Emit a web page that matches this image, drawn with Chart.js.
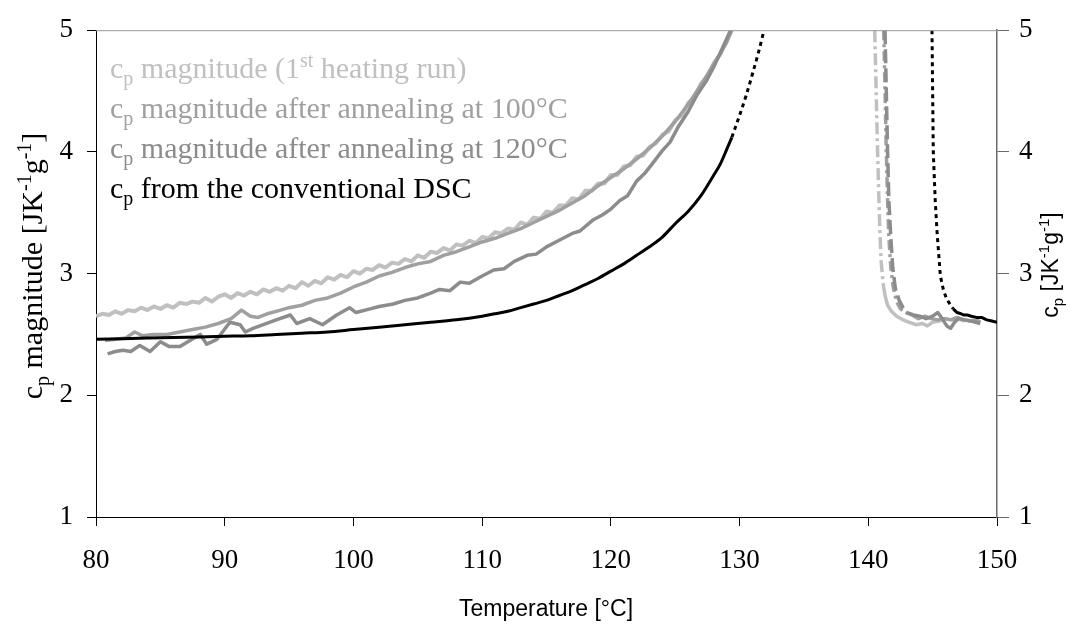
<!DOCTYPE html>
<html>
<head>
<meta charset="utf-8">
<script src="https://cdn.jsdelivr.net/npm/chart.js@4.4.1/dist/chart.umd.min.js"></script>
<style>
html,body{margin:0;padding:0;background:#fff;}
#wrap{position:relative;width:1071px;height:628px;}
</style>
</head>
<body>
<div id="wrap"><canvas id="c" width="1071" height="628"></canvas></div>
<script>
// ---- data ----
const xTicks = [80, 90, 100, 110, 120, 130, 140, 150];
const yTicks = [1, 2, 3, 4, 5];

// 1st heating run (light grey)
const heat1T = [80,80.5,81,81.5,82,82.5,83,83.5,84,84.5,
  85,85.5,86,86.5,87,87.5,88,88.5,89,89.5,
  90,90.5,91,91.5,92,92.5,93,93.5,94,94.5,
  95,95.5,96,96.5,97,97.5,98,98.5,99,99.5,
  100,100.5,101,101.5,102,102.5,103,103.5,104,104.5,
  105,105.5,106,106.5,107,107.5,108,108.5,109,109.5,
  110,110.5,111,111.5,112,112.5,113,113.5,114,114.5,
  115,115.5,116,116.5,117,117.5,118,118.5,119,119.5,
  120,120.5,121,121.5,122,122.5,123,123.5,124,124.5,
  125,125.5,126,126.5,127,127.5,128,128.5,129,129.35];
const heat1Cp = [2.65,2.67,2.66,2.69,2.67,2.70,2.69,2.72,2.70,2.73,
  2.71,2.74,2.72,2.76,2.75,2.77,2.76,2.80,2.77,2.81,
  2.83,2.80,2.84,2.82,2.85,2.83,2.87,2.85,2.88,2.86,
  2.90,2.88,2.93,2.90,2.94,2.92,2.97,2.95,2.99,2.97,
  3.02,3.00,3.04,3.03,3.07,3.05,3.09,3.08,3.12,3.10,
  3.15,3.13,3.18,3.17,3.21,3.19,3.24,3.23,3.27,3.25,
  3.30,3.29,3.34,3.33,3.37,3.36,3.42,3.40,3.46,3.45,
  3.51,3.50,3.56,3.56,3.62,3.61,3.68,3.68,3.74,3.74,
  3.81,3.81,3.88,3.89,3.96,3.97,4.04,4.07,4.14,4.17,
  4.26,4.30,4.40,4.45,4.56,4.62,4.73,4.80,4.92,5.00];
const heat1FallT = [140.5,140.6,140.7,140.8,140.9,141.0,141.15];
const heat1FallCp = [5.0,4.55,4.1,3.7,3.35,3.1,2.92];
const heat1TailT = [141.15,141.3,141.5,141.8,142.2,142.7,143.2,143.7,144.2,144.6,145,145.5,146,146.5,147,147.5];
const heat1TailCp = [2.92,2.82,2.74,2.69,2.65,2.62,2.60,2.58,2.59,2.57,2.60,2.61,2.63,2.62,2.63,2.61];

// after annealing at 100 °C
const ann100T = [80.7,81.5,82.3,83,83.6,84.5,85.5,86.5,87.5,88.5,
  89.5,90.5,91.3,92,92.6,93.3,94,95,96,97,
  98,99,100,101,102,103,104,105,106,107,
  108,109,110,111,112,113,114,115,116,117,
  118,119,120,121,122,123,124,125,126,127,
  128,129,129.4];
const ann100Cp = [2.45,2.46,2.47,2.52,2.49,2.50,2.50,2.52,2.54,2.56,
  2.59,2.63,2.70,2.65,2.64,2.67,2.69,2.72,2.74,2.78,
  2.80,2.84,2.89,2.93,2.98,3.01,3.05,3.08,3.10,3.15,
  3.18,3.22,3.26,3.29,3.33,3.37,3.42,3.47,3.52,3.58,
  3.64,3.72,3.79,3.86,3.94,4.03,4.13,4.25,4.39,4.55,
  4.72,4.90,5.00];
const ann100FallT = [141.2,141.3,141.4,141.5,141.6,141.75,141.95,142.2,142.5,142.9];
const ann100FallCp = [5.0,4.5,4.0,3.6,3.3,3.05,2.88,2.77,2.71,2.68];
const ann100TailT = [142.9,143.4,143.9,144.4,144.9,145.4,145.9,146.4,146.9,147.4,147.9,148.4,148.7];
const ann100TailCp = [2.68,2.66,2.63,2.65,2.63,2.62,2.63,2.62,2.64,2.62,2.61,2.62,2.60];

// after annealing at 120 °C
const ann120T = [80.9,81.5,82.1,82.7,83.4,84.2,85,85.7,86.5,87.3,
  88.1,88.6,89.4,90.4,91.2,91.6,92.2,93,94,95.1,
  95.6,96.6,97.6,98.7,99.7,100.2,101.3,102,103.1,104,
  105,106,106.7,107.5,108.3,109,110,110.9,111.7,112.5,
  113.5,114.2,115,116.1,117,117.6,118.6,119.3,120,120.7,
  121.3,122,122.6,123.2,124,124.6,125.2,126,126.7,127.4,
  128,128.7,129.3];
const ann120Cp = [2.34,2.36,2.37,2.36,2.41,2.36,2.44,2.40,2.40,2.45,
  2.50,2.42,2.46,2.60,2.58,2.52,2.55,2.58,2.62,2.66,
  2.59,2.63,2.58,2.66,2.72,2.68,2.71,2.73,2.75,2.78,
  2.80,2.84,2.87,2.86,2.93,2.92,2.98,3.03,3.04,3.10,
  3.15,3.16,3.22,3.28,3.33,3.35,3.44,3.48,3.53,3.60,
  3.64,3.76,3.82,3.90,4.01,4.08,4.20,4.33,4.47,4.58,
  4.70,4.86,5.00];
const ann120FallT = [141.3,141.4,141.5,141.6,141.75,141.9,142.1,142.4,142.7,143.0];
const ann120FallCp = [5.0,4.5,4.0,3.6,3.3,3.05,2.88,2.78,2.72,2.68];
const ann120TailT = [143.0,143.5,144,144.5,145,145.4,145.8,146.1,146.4,146.7,147,147.5,148,148.7];
const ann120TailCp = [2.68,2.66,2.65,2.63,2.65,2.68,2.62,2.57,2.55,2.60,2.63,2.62,2.61,2.59];

// conventional DSC (black)
const dscT = [80,82,84,86,88,90,92,94,96,98,100,102,104,106,108,110,111,112,113,114,115,116,117,118,119,120,121,122,123,124,125,126,127,128,128.5,129,129.4];
const dscCp = [2.46,2.465,2.47,2.475,2.48,2.485,2.49,2.50,2.51,2.52,2.54,2.56,2.58,2.60,2.62,2.65,2.67,2.69,2.72,2.75,2.78,2.82,2.86,2.91,2.96,3.02,3.08,3.15,3.22,3.30,3.41,3.51,3.64,3.81,3.90,4.02,4.12];
const dscRiseDotT = [129.4,130,130.5,131,131.5,131.9];
const dscRiseDotCp = [4.12,4.30,4.46,4.64,4.83,5.0];
const dscFallDotT = [144.95,145.0,145.05,145.2,145.35,145.6,145.85,146.1,146.4,146.6];
const dscFallDotCp = [5.0,4.5,4.0,3.6,3.33,2.98,2.86,2.79,2.74,2.71];
const dscTailT = [146.6,146.9,147.2,147.4,147.7,148,148.4,148.8,149.2,149.6,150];
const dscTailCp = [2.71,2.68,2.67,2.66,2.66,2.65,2.64,2.64,2.62,2.61,2.60];

const legendLines = [
  {color:'#c0c0c0', segs:[{t:'c'},{t:'p',s:'sub'},{t:' magnitude (1'},{t:'st',s:'sup'},{t:' heating run)'}]},
  {color:'#a0a0a0', segs:[{t:'c'},{t:'p',s:'sub'},{t:' magnitude after annealing at 100°C'}]},
  {color:'#8c8c8c', segs:[{t:'c'},{t:'p',s:'sub'},{t:' magnitude after annealing at 120°C'}]},
  {color:'#000000', segs:[{t:'c'},{t:'p',s:'sub'},{t:' from the conventional DSC'}]}
];
const yTitleLeft = [{t:'c'},{t:'p',s:'sub'},{t:' magnitude [JK'},{t:'-1',s:'sup'},{t:'g'},{t:'-1',s:'sup'},{t:']'}];
const yTitleRight = [{t:'c'},{t:'p',s:'sub'},{t:' [JK'},{t:'-1',s:'sup'},{t:'g'},{t:'-1',s:'sup'},{t:']'}];
const xTitle = 'Temperature [°C]';

// ---- helpers ----
function pts(xs, ys){ return xs.map((x,i)=>({x:x, y:ys[i]})); }
function ds(xs, ys, color, width, dash, mode){
  return {data:pts(xs,ys), borderColor:color, borderWidth:width, borderDash:dash||[],
    pointRadius:0, fill:false, tension:0, cubicInterpolationMode: mode==='mono'?'monotone':'default',
    borderCapStyle:'butt', borderJoinStyle:'round'};
}
function segFont(seg, size, fam){ return (seg.s ? Math.round(size*0.65) : size) + 'px ' + fam; }
function richWidth(ctx, segs, size, fam){
  let w=0; for(const s of segs){ ctx.font=segFont(s,size,fam); w+=ctx.measureText(s.t).width; } return w;
}
function drawRich(ctx, segs, x, y, size, fam, color){
  let cx=x; ctx.fillStyle=color; ctx.textBaseline='alphabetic'; ctx.textAlign='left';
  for(const s of segs){
    ctx.font=segFont(s,size,fam);
    let dy = s.s==='sub' ? size*0.22 : (s.s==='sup' ? -size*0.38 : 0);
    ctx.fillText(s.t, cx, y+dy);
    cx += ctx.measureText(s.t).width;
  }
}

const SERIF = '"Liberation Serif", "Times New Roman", serif';
const SANS = '"Liberation Sans", Arial, sans-serif';

const textPlugin = {
  id:'texts',
  afterDraw(chart){
    const ctx = chart.ctx, a = chart.chartArea;
    ctx.save();
    ctx.strokeStyle='#9a9a9a'; ctx.lineWidth=1;
    ctx.beginPath(); ctx.moveTo(a.left, a.top+0.5); ctx.lineTo(a.right, a.top+0.5); ctx.stroke();
    legendLines.forEach((l,i)=>{ drawRich(ctx, l.segs, 110, 78 + i*40, 30, SERIF, l.color); });
    ctx.save();
    ctx.translate(42, 266); ctx.rotate(-Math.PI/2);
    let w = richWidth(ctx, yTitleLeft, 30, SERIF);
    drawRich(ctx, yTitleLeft, -w/2, 0, 30, SERIF, '#000');
    ctx.restore();
    ctx.save();
    ctx.translate(1058, 265); ctx.rotate(-Math.PI/2);
    w = richWidth(ctx, yTitleRight, 23, SANS);
    drawRich(ctx, yTitleRight, -w/2, 0, 23, SANS, '#000');
    ctx.restore();
    ctx.font = '23px ' + SANS; ctx.fillStyle='#000'; ctx.textAlign='center'; ctx.textBaseline='alphabetic';
    ctx.fillText(xTitle, 546, 616);
    ctx.restore();
  }
};

const LG='#c0c0c0', G1='#a0a0a0', G2='#8c8c8c', K='#000000';
const datasets = [
  ds(dscT, dscCp, K, 3, [], 'mono'),
  ds(dscRiseDotT, dscRiseDotCp, K, 3, [4,4], 'mono'),
  ds(dscFallDotT, dscFallDotCp, K, 3, [4,4], 'lin'),
  ds(dscTailT, dscTailCp, K, 3, [], 'lin'),
  ds(ann120T, ann120Cp, G2, 3.5, [], 'lin'),
  ds(ann120FallT, ann120FallCp, G2, 3.5, [14,5], 'lin'),
  ds(ann120TailT, ann120TailCp, G2, 3.5, [], 'lin'),
  ds(ann100T, ann100Cp, G1, 3.5, [], 'lin'),
  ds(ann100FallT, ann100FallCp, G1, 3.5, [10,4,3,4], 'lin'),
  ds(ann100TailT, ann100TailCp, G1, 3.5, [], 'lin'),
  ds(heat1T, heat1Cp, LG, 4, [], 'lin'),
  ds(heat1FallT, heat1FallCp, LG, 3.5, [12,4,3,4], 'lin'),
  ds(heat1TailT, heat1TailCp, LG, 3.5, [], 'lin')
];

function intTicks(axis){ axis.ticks = yTicks.map(v=>({value:v})); }

new Chart(document.getElementById('c'), {
  type:'line',
  data:{datasets:datasets},
  options:{
    responsive:false, animation:false, devicePixelRatio:1,
    layout:{padding:{top:25,left:0,right:0,bottom:0}},
    plugins:{legend:{display:false}, tooltip:{enabled:false}},
    scales:{
      x:{type:'linear', min:80, max:150,
        afterBuildTicks: ax => { ax.ticks = xTicks.map(v=>({value:v})); },
        afterFit: s => { s.height = 111; },
        ticks:{color:'#000', font:{family:SERIF, size:27}, padding:19, maxRotation:0, autoSkip:false},
        grid:{drawOnChartArea:false, drawTicks:true, tickLength:9, color:'#000', tickColor:'#000'},
        border:{display:true, color:'#000', width:1}
      },
      y:{type:'linear', position:'left', min:1, max:5,
        afterBuildTicks: intTicks,
        afterFit: s => { s.width = 96; },
        ticks:{color:'#000', font:{family:SERIF, size:27}, padding:14},
        grid:{drawOnChartArea:false, drawTicks:true, tickLength:9, color:'#000', tickColor:'#000'},
        border:{display:true, color:'#000', width:1}
      },
      y2:{type:'linear', position:'right', min:1, max:5,
        afterBuildTicks: intTicks,
        afterFit: s => { s.width = 74; },
        ticks:{color:'#000', font:{family:SERIF, size:27}, padding:10},
        grid:{drawOnChartArea:false, drawTicks:true, tickLength:12, color:'#6a6a6a', tickColor:'#6a6a6a'},
        border:{display:true, color:'#6a6a6a', width:1.5}
      }
    }
  },
  plugins:[textPlugin]
});
</script>
</body>
</html>
